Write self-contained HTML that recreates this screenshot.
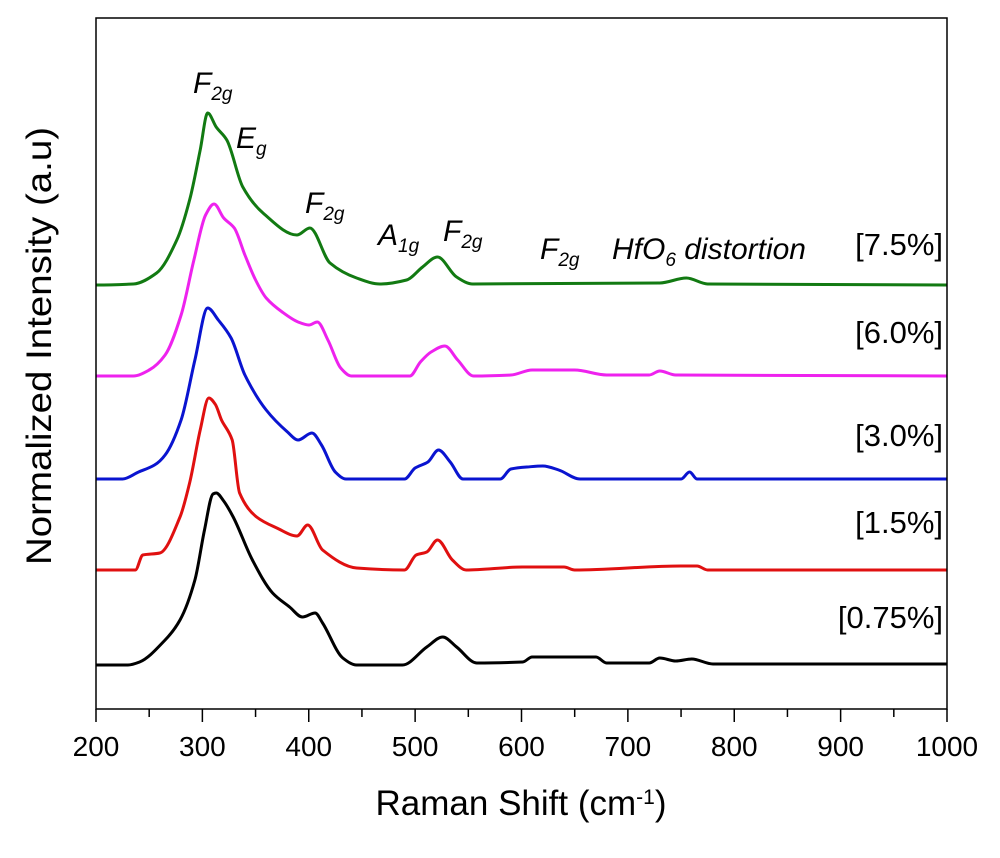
<!DOCTYPE html>
<html><head><meta charset="utf-8"><style>
body{margin:0;background:#fff;}
svg text{font-family:"Liberation Sans",Arial,sans-serif;}
</style></head><body>
<svg id="chart" width="1000" height="853" xmlns="http://www.w3.org/2000/svg">
<g id="marks"></g>
<rect x="96" y="18" width="851" height="691" fill="none" stroke="#000" stroke-width="1.5"/>
<g id="xaxis"></g>
<text x="521" y="815" font-size="35" text-anchor="middle">Raman Shift (cm<tspan baseline-shift="super" font-size="21">-1</tspan>)</text>
<text transform="translate(51,346) rotate(-90)" font-size="35" text-anchor="middle" textLength="438" lengthAdjust="spacingAndGlyphs">Normalized Intensity (a.u)</text>
<g font-style="italic" font-size="30">
<text x="193" y="93">F<tspan font-size="19" dy="7">2g</tspan></text>
<text x="236" y="148">E<tspan font-size="19" dy="7">g</tspan></text>
<text x="305" y="213">F<tspan font-size="19" dy="7">2g</tspan></text>
<text x="378" y="245">A<tspan font-size="19" dy="7">1g</tspan></text>
<text x="443" y="241">F<tspan font-size="19" dy="7">2g</tspan></text>
<text x="540" y="259">F<tspan font-size="19" dy="7">2g</tspan></text>
<text x="612" y="259">HfO<tspan font-size="19" dy="7">6</tspan><tspan dy="-7"> distortion</tspan></text>
</g>
<g font-size="31" text-anchor="end">
<text x="943" y="255">[7.5%]</text>
<text x="943" y="343">[6.0%]</text>
<text x="943" y="446">[3.0%]</text>
<text x="943" y="533">[1.5%]</text>
<text x="943" y="628">[0.75%]</text>
</g>
</svg>
<script>
const xTicks=[200,300,400,500,600,700,800,900,1000];
const seriesNames=["0.75%","1.5%","3.0%","6.0%","7.5%"];
const seriesColors=["#000000","#e01010","#0a14d0","#ee22ee","#127a12"];
// wavenumbers and intensity (a.u., arbitrary stacked units)
const wn075=[200,230,241,265,279,293,302,310,313,320,329,347,366,382,394,406,413,432,445,488,511,526,539,558,601,610,670,680,720,730,745,760,780,1000];
const int075=[44,44,47,69,89,129,179,215,216,208,192,149,116,102,92,96,86,51,44,44,62,72,62,46,47,52,52,46,46,51,48,50,45,45];
const wn15=[200,237,244,260,279,288,298,306,312,318,328,335,351,370,389,399,413,445,490,501,511,521,535,548,601,640,650,750,765,775,1000];
const int15=[139,139,154,156,192,226,279,311,305,289,269,216,192,181,173,184,159,141,139,154,157,169,149,139,142,142,139,143,143,139,139];
const wn30=[200,225,240,255,265,280,293,305,315,327,340,360,380,390,403,412,425,435,490,500,512,522,533,545,580,590,605,620,635,655,750,758,765,1000];
const int30=[230,230,237,244,254,289,349,401,389,371,334,299,277,269,276,264,237,230,230,241,247,259,247,230,230,240,242,243,239,230,230,237,230,230];
const wn60=[200,235,250,265,280,292,303,311,320,330,340,350,360,375,390,400,408,418,430,440,495,505,515,528,540,555,590,610,650,680,720,730,745,1000];
const int60=[333,333,339,354,394,449,494,505,491,481,454,429,411,397,387,384,387,369,341,333,333,347,357,363,349,333,334,339,339,334,334,338,334,333];
const wn75=[200,235,257,276,288,298,305,313,323,338,357,389,401,420,445,467,492,507,521,539,554,730,755,775,1000];
const int75=[424,425,436,469,509,559,596,582,569,522,496,474,481,446,431,425,429,442,452,432,425,426,431,425,424];
const allWn=[wn075,wn15,wn30,wn60,wn75];
const allInt=[int075,int15,int30,int60,int75];
const X=v=>96+(v-200)*851/800;
const Y=v=>709-v;
const ns="http://www.w3.org/2000/svg";
const marks=document.getElementById('marks');
allWn.forEach((w,i)=>{
  const p=document.createElementNS(ns,'path');
  const pts=w.map((x,j)=>[X(x),Y(allInt[i][j])]);
  const n=pts.length;
  const m=pts.map((pt,j)=>{
    if(j===0||j===n-1) return 0;
    const a=pts[j-1],b=pts[j+1];
    const s1=(pt[1]-a[1])/(pt[0]-a[0]), s2=(b[1]-pt[1])/(b[0]-pt[0]);
    if(s1*s2<=0) return 0;
    return 2/(1/s1+1/s2);
  });
  let d='M'+pts[0][0].toFixed(1)+','+pts[0][1].toFixed(1);
  for(let j=0;j<n-1;j++){
    const a=pts[j],b=pts[j+1],h=(b[0]-a[0])/3;
    d+='C'+(a[0]+h).toFixed(1)+','+(a[1]+m[j]*h).toFixed(1)+' '+(b[0]-h).toFixed(1)+','+(b[1]-m[j+1]*h).toFixed(1)+' '+b[0].toFixed(1)+','+b[1].toFixed(1);
  }
  p.setAttribute('d',d);
  p.setAttribute('fill','none');
  p.setAttribute('stroke',seriesColors[i]);
  p.setAttribute('stroke-width','3');
  p.setAttribute('stroke-linejoin','round');
  
  
  marks.appendChild(p);
});
const xa=document.getElementById('xaxis');
xTicks.forEach((t,i)=>{
  const l=document.createElementNS(ns,'line');
  l.setAttribute('x1',X(t));l.setAttribute('x2',X(t));l.setAttribute('y1',709);l.setAttribute('y2',722);
  l.setAttribute('stroke','#000');l.setAttribute('stroke-width','1.5');
  
  
  xa.appendChild(l);
  if(i<xTicks.length-1){
    const mk=document.createElementNS(ns,'line');
    const mx=X(t+50);
    mk.setAttribute('x1',mx);mk.setAttribute('x2',mx);mk.setAttribute('y1',709);mk.setAttribute('y2',717);
    mk.setAttribute('stroke','#000');mk.setAttribute('stroke-width','1.5');
    
    
    xa.appendChild(mk);
  }
  const tx=document.createElementNS(ns,'text');
  tx.setAttribute('x',X(t));tx.setAttribute('y',756);
  tx.setAttribute('font-size','28');tx.setAttribute('text-anchor','middle');
  
  
  tx.textContent=t;
  xa.appendChild(tx);
});
</script>
</body></html>
